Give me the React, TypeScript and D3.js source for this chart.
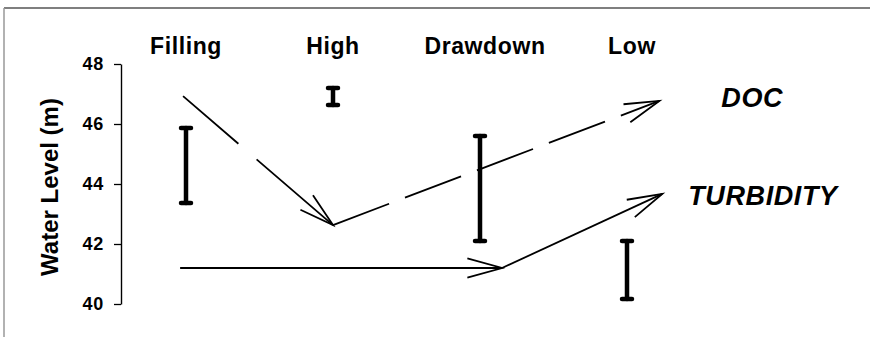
import { useRef, useEffect } from 'react'
import * as d3 from 'd3'

const categories = ['Filling', 'High', 'Drawdown', 'Low']
const levelLow = [43.37, 46.63, 42.1, 40.17]
const levelHigh = [45.87, 47.2, 45.6, 42.1]
const yTicks = [40, 42, 44, 46, 48]

// trend arrows: position along the season axis (0 = Filling ... 3 = Low) and water level
const docPos = [-0.02, 1, 3.22]
const docLevel = [46.93, 42.63, 46.77]
const turbPos = [-0.04, 2.15, 3.24]
const turbLevel = [41.2, 41.2, 43.67]

const W = 870
const H = 337
const FONT = 'Arial, "Liberation Sans", sans-serif'

export default function App() {
  const svgRef = useRef(null)

  useEffect(() => {
    const svg = d3.select(svgRef.current)
    svg.selectAll('*').remove()

    const x = d3.scaleLinear().domain([0, 3]).range([186, 627])
    const y = d3.scaleLinear().domain([40, 48]).range([304, 64])

    svg.append('rect').attr('width', W).attr('height', H).attr('fill', '#fff')

    // scanned frame edges
    svg.append('line').attr('x1', 4).attr('x2', W).attr('y1', 8).attr('y2', 8)
      .attr('stroke', '#555').attr('stroke-width', 1.5)
    svg.append('line').attr('x1', 4).attr('x2', 4).attr('y1', 8).attr('y2', H)
      .attr('stroke', '#999').attr('stroke-width', 1.5)

    // Y axis
    const axis = svg.append('g')
      .attr('transform', 'translate(121,0)')
      .call(d3.axisLeft(y).tickValues(yTicks).tickSize(7).tickSizeOuter(0).tickPadding(10))
      .attr('font-size', 18)
      .attr('font-family', FONT)
    axis.select('.domain').attr('stroke', '#000').attr('stroke-width', 1.4)
    axis.selectAll('.tick line').attr('stroke', '#000').attr('stroke-width', 1.3)
    axis.selectAll('.tick text')
      .attr('fill', '#000')
      .attr('font-weight', 'bold')
      .style('font-size', '18px')
      .style('letter-spacing', '0.8px')

    svg.append('text')
      .attr('transform', `translate(58,${(y(40) + y(48)) / 2 + 3}) rotate(-90)`)
      .attr('text-anchor', 'middle')
      .attr('font-family', FONT)
      .attr('font-weight', 'bold')
      .attr('font-size', 24)
      .text('Water Level (m)')

    // season labels
    svg.selectAll('.cat')
      .data(categories)
      .join('text')
      .attr('class', 'cat')
      .attr('x', (_, i) => x(i) + (i > 1 ? 5 : 0))
      .attr('y', 54)
      .attr('text-anchor', 'middle')
      .attr('font-family', FONT)
      .attr('font-weight', 'bold')
      .attr('font-size', 23)
      .style('letter-spacing', '0.6px')
      .text((d) => d)

    // water level ranges
    const bars = svg.selectAll('.range')
      .data(categories)
      .join('g')
      .attr('class', 'range')
      .attr('stroke', '#000')
      .attr('stroke-linecap', 'round')
    bars.append('line')
      .attr('x1', (_, i) => x(i)).attr('x2', (_, i) => x(i))
      .attr('y1', (_, i) => y(levelHigh[i])).attr('y2', (_, i) => y(levelLow[i]))
      .attr('stroke-width', 4.5)
    ;[levelHigh, levelLow].forEach((lv) => {
      bars.append('line')
        .attr('x1', (_, i) => x(i) - 5).attr('x2', (_, i) => x(i) + 5)
        .attr('y1', (_, i) => y(lv[i])).attr('y2', (_, i) => y(lv[i]))
        .attr('stroke-width', 4.5)
    })

    // trend arrows
    const drawTrend = (pos: number[], lv: number[], dashes: (string | null)[]) => {
      const pts = pos.map((p, i) => [x(p), y(lv[i])])
      const g = svg.append('g').attr('stroke', '#000').attr('fill', 'none').attr('stroke-width', 1.8)
      for (let i = 0; i < pts.length - 1; i++) {
        const [x1, y1] = pts[i]
        const [x2, y2] = pts[i + 1]
        g.append('line')
          .attr('x1', x1).attr('y1', y1).attr('x2', x2).attr('y2', y2)
          .attr('stroke-dasharray', dashes[i])
        const a = Math.atan2(y1 - y2, x1 - x2)
        const len = 36
        const spread = 0.27
        const path = d3.path()
        path.moveTo(x2 + len * Math.cos(a + spread), y2 + len * Math.sin(a + spread))
        path.lineTo(x2, y2)
        path.lineTo(x2 + len * Math.cos(a - spread), y2 + len * Math.sin(a - spread))
        g.append('path').attr('d', path.toString())
      }
      return pts
    }

    const docPts = drawTrend(docPos, docLevel, ['73 24 400 0', '60 17'])
    const turbPts = drawTrend(turbPos, turbLevel, [null, null])

    const label = (pt: number[], dx: number, dy: number, txt: string) =>
      svg.append('text')
        .attr('x', pt[0] + dx)
        .attr('y', pt[1] + dy)
        .attr('font-family', FONT)
        .attr('font-weight', 'bold')
        .attr('font-style', 'italic')
        .attr('font-size', 27)
        .style('letter-spacing', '0.6px')
        .text(txt)
    label(docPts[docPts.length - 1], 62, 6, 'DOC')
    label(turbPts[turbPts.length - 1], 26, 11, 'TURBIDITY')
  }, [])

  return (
    <svg
      ref={svgRef}
      width={W}
      height={H}
      style={{ position: 'absolute', left: 0, top: 0 }}
    />
  )
}
